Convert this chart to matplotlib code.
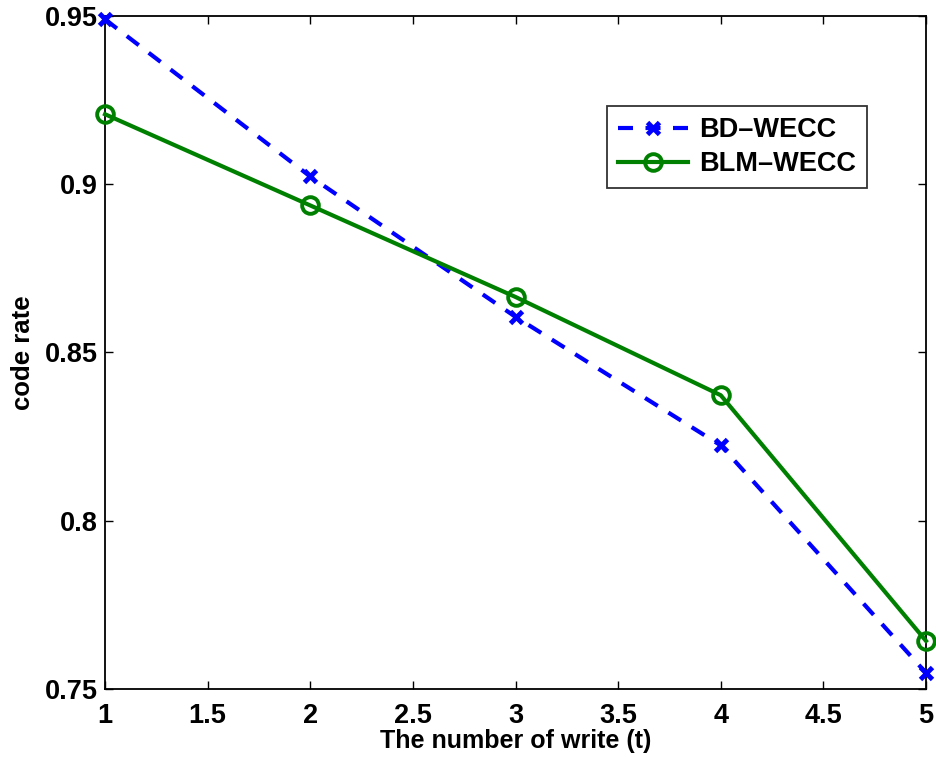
import matplotlib
matplotlib.use("Agg")
import matplotlib.pyplot as plt

# number of writes
t = [1, 2, 3, 4, 5]
# code rate values
bd_wecc = [0.949, 0.9023, 0.8606, 0.8224, 0.7548]
blm_wecc = [0.9208, 0.8937, 0.8665, 0.8373, 0.7643]

xticks = [1, 1.5, 2, 2.5, 3, 3.5, 4, 4.5, 5]
yticks = [0.75, 0.8, 0.85, 0.9, 0.95]

plt.rcParams['font.family'] = ['Liberation Sans', 'DejaVu Sans']
plt.rcParams['font.weight'] = 'bold'


def main():
    fig = plt.figure(figsize=(9.36, 7.57), dpi=100)
    ax = fig.add_axes([0.1122, 0.0898, 0.8771, 0.8891])

    ax.plot(t, bd_wecc, color="#0000ff", linestyle=(0, (3.6, 3.0)), linewidth=3.0,
            marker="x", markersize=9, markeredgewidth=3.5, label="BD\u2013WECC",
            clip_on=False, zorder=3)
    ax.plot(t, blm_wecc, color="#008000", linestyle="-", linewidth=3.0,
            marker="o", markersize=12, markeredgewidth=2.8, markerfacecolor="none",
            label="BLM\u2013WECC", clip_on=False, zorder=3)

    ax.set_xlim(1, 5)
    ax.set_ylim(0.75, 0.95)
    ax.set_xticks(xticks)
    ax.set_xticklabels([f"{v:g}" for v in xticks])
    ax.set_yticks(yticks)
    ax.set_yticklabels([f"{v:g}" for v in yticks])
    ax.tick_params(direction="in", length=6, width=1, labelsize=19.5,
                   top=True, right=True)
    ax.tick_params(axis="x", pad=10)
    ax.tick_params(axis="y", pad=5)
    for s in ax.spines.values():
        s.set_linewidth(1.3)
    for lbl in ax.get_xticklabels() + ax.get_yticklabels():
        lbl.set_fontweight("bold")

    ax.set_xlabel("The number of write (t)", fontsize=18, fontweight="bold", labelpad=0)
    ax.set_ylabel("code rate", fontsize=18.5, fontweight="bold", labelpad=7)

    leg = ax.legend(loc="upper right", bbox_to_anchor=(0.928, 0.866), fontsize=19.5,
                    frameon=True, fancybox=False, edgecolor="black",
                    handlelength=2.6, handletextpad=0.4, borderpad=0.4,
                    labelspacing=0.3, borderaxespad=0)
    leg.get_frame().set_linewidth(1.3)
    for txt in leg.get_texts():
        txt.set_fontweight("bold")

    fig.savefig("out.png", dpi=100)


if __name__ == "__main__":
    main()
